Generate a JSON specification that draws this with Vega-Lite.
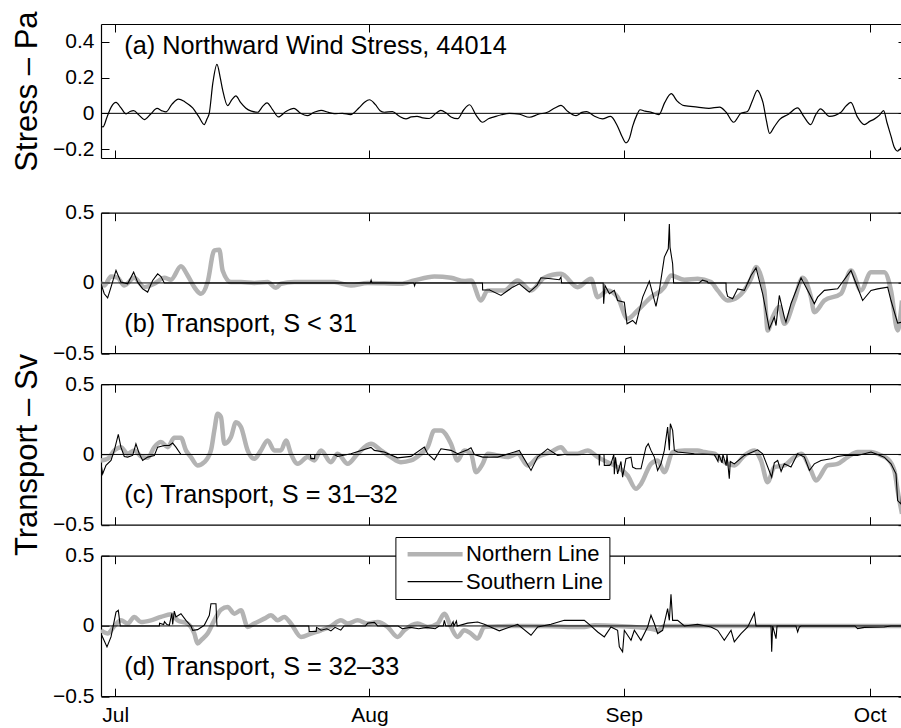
{
"$schema": "https://vega.github.io/schema/vega-lite/v6.json",
"autosize": {"type": "pad"},
"padding": {"left": 11, "top": 10, "right": 0, "bottom": 0},
"background": "white",
"config": {
  "view": {"stroke": null},
  "font": "Liberation Sans",
  "axis": {"grid": false, "domainColor": "black", "domainWidth": 1.2, "tickColor": "black", "tickWidth": 1, "tickSize": -8, "labelFont": "Liberation Sans", "labelFontSize": 21, "labelColor": "black", "labelPadding": 15, "titleFont": "Liberation Sans", "titleFontSize": 31, "titleFontWeight": "normal", "titleColor": "black", "titlePadding": 9},
  "text": {"font": "Liberation Sans", "fontSize": 25.3, "color": "black", "align": "left", "baseline": "middle"}
},
"datasets": {
"a": [
{"d":-1.74,"v":-0.07},{"d":-1.5,"v":-0.076},{"d":-1.0,"v":-0.02},{"d":-0.5,"v":0.035},{"d":0.09,"v":0.061},{"d":0.7,"v":0.03},{"d":1.32,"v":-0.003},{"d":1.8,"v":0.01},{"d":2.24,"v":0.015},{"d":2.9,"v":-0.01},{"d":3.54,"v":-0.035},{"d":4.3,"v":-0.005},{"d":5.09,"v":0.028},{"d":5.7,"v":0.014},{"d":6.18,"v":0.008},{"d":6.9,"v":0.05},{"d":7.7,"v":0.08},{"d":8.5,"v":0.064},{"d":9.44,"v":0.03},{"d":10.2,"v":-0.02},{"d":10.85,"v":-0.063},{"d":11.2,"v":-0.03},{"d":11.46,"v":0.0},{"d":11.9,"v":0.17},{"d":12.4,"v":0.274},{"d":12.8,"v":0.2},{"d":13.1,"v":0.13},{"d":13.7,"v":0.043},{"d":14.2,"v":0.075},{"d":14.7,"v":0.098},{"d":15.3,"v":0.06},{"d":15.9,"v":0.03},{"d":16.6,"v":0.012},{"d":17.37,"v":0.006},{"d":18.0,"v":0.04},{"d":18.5,"v":0.058},{"d":19.2,"v":0.02},{"d":19.9,"v":-0.02},{"d":20.8,"v":0.01},{"d":21.8,"v":0.028},{"d":22.6,"v":0.0},{"d":23.4,"v":-0.013},{"d":24.2,"v":0.005},{"d":25.1,"v":0.017},{"d":26.0,"v":0.005},{"d":26.7,"v":-0.002},{"d":27.7,"v":0.0},{"d":28.7,"v":-0.007},{"d":29.7,"v":0.03},{"d":30.4,"v":0.062},{"d":31.0,"v":0.076},{"d":31.7,"v":0.05},{"d":32.3,"v":0.015},{"d":32.8,"v":0.006},{"d":33.8,"v":0.01},{"d":34.6,"v":-0.015},{"d":35.45,"v":-0.031},{"d":36.1,"v":-0.02},{"d":36.8,"v":-0.017},{"d":37.5,"v":-0.025},{"d":38.3,"v":-0.029},{"d":39.1,"v":0.0},{"d":39.7,"v":0.017},{"d":40.4,"v":0.0},{"d":40.95,"v":-0.02},{"d":41.76,"v":-0.03},{"d":42.5,"v":0.02},{"d":43.2,"v":0.048},{"d":44.0,"v":-0.01},{"d":44.8,"v":-0.05},{"d":45.5,"v":-0.03},{"d":46.2,"v":-0.02},{"d":47.1,"v":-0.008},{"d":48.05,"v":0.0},{"d":49.3,"v":-0.005},{"d":50.5,"v":-0.022},{"d":51.6,"v":-0.005},{"d":52.7,"v":0.006},{"d":53.6,"v":0.03},{"d":54.35,"v":0.044},{"d":55.2,"v":0.01},{"d":56.2,"v":-0.013},{"d":56.9,"v":0.005},{"d":57.5,"v":0.01},{"d":58.4,"v":-0.015},{"d":59.4,"v":-0.031},{"d":60.4,"v":-0.017},{"d":61.25,"v":-0.072},{"d":61.8,"v":-0.13},{"d":62.28,"v":-0.165},{"d":62.7,"v":-0.14},{"d":63.1,"v":-0.072},{"d":63.6,"v":-0.01},{"d":64.0,"v":0.02},{"d":64.6,"v":0.012},{"d":65.3,"v":0.007},{"d":66.3,"v":-0.007},{"d":67.0,"v":0.06},{"d":67.8,"v":0.11},{"d":68.5,"v":0.07},{"d":69.4,"v":0.043},{"d":71.0,"v":0.035},{"d":72.4,"v":0.028},{"d":73.7,"v":0.035},{"d":74.5,"v":0.006},{"d":75.4,"v":-0.05},{"d":76.3,"v":0.0},{"d":77.1,"v":0.01},{"d":77.7,"v":0.07},{"d":78.3,"v":0.128},{"d":78.7,"v":0.1},{"d":79.0,"v":0.058},{"d":79.4,"v":-0.04},{"d":79.8,"v":-0.113},{"d":80.3,"v":-0.08},{"d":81.0,"v":-0.035},{"d":82.1,"v":-0.005},{"d":83.2,"v":0.03},{"d":84.0,"v":-0.02},{"d":84.8,"v":-0.063},{"d":85.4,"v":-0.01},{"d":86.0,"v":0.025},{"d":87.1,"v":-0.017},{"d":88.5,"v":0.006},{"d":89.1,"v":0.04},{"d":89.7,"v":0.061},{"d":90.5,"v":-0.02},{"d":91.35,"v":-0.063},{"d":92.0,"v":-0.045},{"d":92.6,"v":-0.031},{"d":93.2,"v":-0.01},{"d":93.7,"v":0.015},{"d":94.1,"v":-0.05},{"d":94.6,"v":-0.128},{"d":95.0,"v":-0.19},{"d":95.4,"v":-0.211},{"d":95.94,"v":-0.183}
],
"b": [
{"s":"Northern Line","d":-1.74,"v":0.006},{"s":"Northern Line","d":-1.34,"v":-0.018},{"s":"Northern Line","d":-0.52,"v":0.046},{"s":"Northern Line","d":0.29,"v":0.037},{"s":"Northern Line","d":1.1,"v":-0.018},{"s":"Northern Line","d":2.32,"v":0.037},{"s":"Northern Line","d":3.54,"v":-0.03},{"s":"Northern Line","d":4.76,"v":-0.006},{"s":"Northern Line","d":5.98,"v":0.037},{"s":"Northern Line","d":6.79,"v":0.023},{"s":"Northern Line","d":8.01,"v":0.118},{"s":"Northern Line","d":8.83,"v":0.053},{"s":"Northern Line","d":9.64,"v":-0.03},{"s":"Northern Line","d":10.45,"v":-0.077},{"s":"Northern Line","d":11.26,"v":0.006},{"s":"Northern Line","d":12.08,"v":0.232},{"s":"Northern Line","d":12.69,"v":0.236},{"s":"Northern Line","d":13.09,"v":0.089},{"s":"Northern Line","d":14.11,"v":0.006},{"s":"Northern Line","d":15.33,"v":0.006},{"s":"Northern Line","d":16.95,"v":0.0},{"s":"Northern Line","d":18.58,"v":0.006},{"s":"Northern Line","d":19.6,"v":-0.035},{"s":"Northern Line","d":20.21,"v":-0.006},{"s":"Northern Line","d":21.83,"v":0.006},{"s":"Northern Line","d":26.71,"v":0.006},{"s":"Northern Line","d":28.74,"v":-0.018},{"s":"Northern Line","d":30.78,"v":0.0},{"s":"Northern Line","d":34.84,"v":-0.006},{"s":"Northern Line","d":36.47,"v":0.018},{"s":"Northern Line","d":38.91,"v":0.046},{"s":"Northern Line","d":40.94,"v":0.037},{"s":"Northern Line","d":42.56,"v":0.013},{"s":"Northern Line","d":43.38,"v":0.018},{"s":"Northern Line","d":44.6,"v":-0.125},{"s":"Northern Line","d":45.41,"v":-0.053},{"s":"Northern Line","d":47.44,"v":-0.053},{"s":"Northern Line","d":49.07,"v":0.018},{"s":"Northern Line","d":50.7,"v":-0.053},{"s":"Northern Line","d":52.32,"v":0.037},{"s":"Northern Line","d":54.35,"v":0.065},{"s":"Northern Line","d":56.39,"v":-0.03},{"s":"Northern Line","d":58.01,"v":0.03},{"s":"Northern Line","d":58.83,"v":-0.101},{"s":"Northern Line","d":60.05,"v":-0.053},{"s":"Northern Line","d":61.26,"v":-0.101},{"s":"Northern Line","d":62.48,"v":-0.255},{"s":"Northern Line","d":63.7,"v":-0.196},{"s":"Northern Line","d":65.33,"v":-0.101},{"s":"Northern Line","d":66.96,"v":-0.03},{"s":"Northern Line","d":67.77,"v":0.053},{"s":"Northern Line","d":69.4,"v":0.023},{"s":"Northern Line","d":71.02,"v":0.03},{"s":"Northern Line","d":72.65,"v":0.006},{"s":"Northern Line","d":73.46,"v":-0.053},{"s":"Northern Line","d":74.68,"v":-0.125},{"s":"Northern Line","d":75.9,"v":-0.101},{"s":"Northern Line","d":77.53,"v":0.03},{"s":"Northern Line","d":78.14,"v":0.113},{"s":"Northern Line","d":79.15,"v":-0.053},{"s":"Northern Line","d":79.56,"v":-0.338},{"s":"Northern Line","d":80.17,"v":-0.243},{"s":"Northern Line","d":80.98,"v":-0.172},{"s":"Northern Line","d":81.59,"v":-0.291},{"s":"Northern Line","d":82.81,"v":-0.125},{"s":"Northern Line","d":83.83,"v":0.037},{"s":"Northern Line","d":84.84,"v":-0.101},{"s":"Northern Line","d":85.25,"v":-0.208},{"s":"Northern Line","d":86.47,"v":-0.125},{"s":"Northern Line","d":88.5,"v":-0.077},{"s":"Northern Line","d":89.72,"v":0.089},{"s":"Northern Line","d":90.94,"v":-0.053},{"s":"Northern Line","d":92.16,"v":0.077},{"s":"Northern Line","d":93.78,"v":0.077},{"s":"Northern Line","d":94.6,"v":-0.053},{"s":"Northern Line","d":95.41,"v":-0.338},{"s":"Northern Line","d":95.94,"v":-0.125},
{"s":"Southern Line","d":-1.74,"v":-0.006},{"s":"Southern Line","d":-1.34,"v":-0.077},{"s":"Southern Line","d":-0.93,"v":-0.106},{"s":"Southern Line","d":-0.52,"v":-0.03},{"s":"Southern Line","d":0.09,"v":0.089},{"s":"Southern Line","d":0.69,"v":0.006},{"s":"Southern Line","d":1.51,"v":-0.006},{"s":"Southern Line","d":2.24,"v":0.077},{"s":"Southern Line","d":2.73,"v":0.006},{"s":"Southern Line","d":3.34,"v":-0.042},{"s":"Southern Line","d":3.95,"v":-0.065},{"s":"Southern Line","d":4.56,"v":0.018},{"s":"Southern Line","d":5.17,"v":0.065},{"s":"Southern Line","d":5.57,"v":0.046},{"s":"Southern Line","d":5.98,"v":0.0},{"s":"Southern Line","d":31.1,"v":0.0},{"s":"Southern Line","d":31.2,"v":0.02},{"s":"Southern Line","d":31.3,"v":0.0},{"s":"Southern Line","d":36.4,"v":0.0},{"s":"Southern Line","d":36.5,"v":-0.02},{"s":"Southern Line","d":36.6,"v":0.0},{"s":"Southern Line","d":44.78,"v":0.0},{"s":"Southern Line","d":44.8,"v":-0.05},{"s":"Southern Line","d":45.55,"v":-0.05},{"s":"Southern Line","d":45.61,"v":-0.049},{"s":"Southern Line","d":47.04,"v":-0.089},{"s":"Southern Line","d":48.46,"v":-0.03},{"s":"Southern Line","d":49.27,"v":-0.006},{"s":"Southern Line","d":50.49,"v":-0.065},{"s":"Southern Line","d":51.43,"v":-0.018},{"s":"Southern Line","d":51.91,"v":0.037},{"s":"Southern Line","d":53.13,"v":0.03},{"s":"Southern Line","d":54.15,"v":0.023},{"s":"Southern Line","d":54.35,"v":0.042},{"s":"Southern Line","d":54.43,"v":0.0},{"s":"Southern Line","d":59.5,"v":0.0},{"s":"Southern Line","d":59.56,"v":-0.148},{"s":"Southern Line","d":59.72,"v":-0.018},{"s":"Southern Line","d":60.26,"v":-0.077},{"s":"Southern Line","d":60.86,"v":-0.053},{"s":"Southern Line","d":61.26,"v":-0.125},{"s":"Southern Line","d":62.08,"v":-0.137},{"s":"Southern Line","d":62.41,"v":-0.291},{"s":"Southern Line","d":63.09,"v":-0.267},{"s":"Southern Line","d":63.5,"v":-0.291},{"s":"Southern Line","d":64.32,"v":-0.101},{"s":"Southern Line","d":65.13,"v":0.013},{"s":"Southern Line","d":65.94,"v":-0.167},{"s":"Southern Line","d":66.35,"v":-0.053},{"s":"Southern Line","d":66.96,"v":0.184},{"s":"Southern Line","d":67.44,"v":0.243},{"s":"Southern Line","d":67.57,"v":0.42},{"s":"Southern Line","d":67.65,"v":0.255},{"s":"Southern Line","d":67.97,"v":0.137},{"s":"Southern Line","d":68.09,"v":0.0},{"s":"Southern Line","d":71.2,"v":0.0},{"s":"Southern Line","d":71.6,"v":0.02},{"s":"Southern Line","d":72.2,"v":0.01},{"s":"Southern Line","d":72.3,"v":0.0},{"s":"Southern Line","d":74.48,"v":0.0},{"s":"Southern Line","d":74.5,"v":-0.053},{"s":"Southern Line","d":74.68,"v":-0.096},{"s":"Southern Line","d":75.29,"v":-0.113},{"s":"Southern Line","d":75.9,"v":-0.042},{"s":"Southern Line","d":76.72,"v":-0.053},{"s":"Southern Line","d":77.53,"v":0.053},{"s":"Southern Line","d":78.14,"v":0.108},{"s":"Southern Line","d":78.95,"v":-0.077},{"s":"Southern Line","d":79.76,"v":-0.327},{"s":"Southern Line","d":80.37,"v":-0.243},{"s":"Southern Line","d":80.58,"v":-0.303},{"s":"Southern Line","d":80.98,"v":-0.089},{"s":"Southern Line","d":81.59,"v":-0.243},{"s":"Southern Line","d":81.79,"v":-0.279},{"s":"Southern Line","d":82.4,"v":-0.148},{"s":"Southern Line","d":83.63,"v":0.037},{"s":"Southern Line","d":84.65,"v":-0.077},{"s":"Southern Line","d":85.25,"v":-0.148},{"s":"Southern Line","d":85.65,"v":-0.101},{"s":"Southern Line","d":86.47,"v":-0.053},{"s":"Southern Line","d":88.09,"v":-0.042},{"s":"Southern Line","d":89.72,"v":0.089},{"s":"Southern Line","d":91.14,"v":-0.125},{"s":"Southern Line","d":92.16,"v":-0.053},{"s":"Southern Line","d":92.97,"v":-0.042},{"s":"Southern Line","d":94.19,"v":-0.03},{"s":"Southern Line","d":94.6,"v":-0.125},{"s":"Southern Line","d":95.41,"v":-0.286},{"s":"Southern Line","d":95.94,"v":-0.279}
],
"c": [
{"s":"Northern Line","d":-1.74,"v":-0.043},{"s":"Northern Line","d":-0.93,"v":-0.031},{"s":"Northern Line","d":-0.12,"v":0.029},{"s":"Northern Line","d":0.69,"v":0.052},{"s":"Northern Line","d":1.51,"v":0.005},{"s":"Northern Line","d":2.32,"v":0.029},{"s":"Northern Line","d":3.13,"v":-0.014},{"s":"Northern Line","d":3.95,"v":-0.024},{"s":"Northern Line","d":4.76,"v":0.052},{"s":"Northern Line","d":5.57,"v":0.088},{"s":"Northern Line","d":6.39,"v":0.052},{"s":"Northern Line","d":7.2,"v":0.119},{"s":"Northern Line","d":8.01,"v":0.119},{"s":"Northern Line","d":8.62,"v":0.029},{"s":"Northern Line","d":9.23,"v":-0.019},{"s":"Northern Line","d":10.04,"v":-0.078},{"s":"Northern Line","d":10.85,"v":-0.055},{"s":"Northern Line","d":11.67,"v":0.029},{"s":"Northern Line","d":12.08,"v":0.171},{"s":"Northern Line","d":12.48,"v":0.29},{"s":"Northern Line","d":12.89,"v":0.266},{"s":"Northern Line","d":13.3,"v":0.076},{"s":"Northern Line","d":14.11,"v":0.124},{"s":"Northern Line","d":14.72,"v":0.23},{"s":"Northern Line","d":15.33,"v":0.195},{"s":"Northern Line","d":16.14,"v":0.029},{"s":"Northern Line","d":16.95,"v":-0.031},{"s":"Northern Line","d":17.77,"v":0.029},{"s":"Northern Line","d":18.58,"v":0.1},{"s":"Northern Line","d":19.39,"v":0.029},{"s":"Northern Line","d":20.21,"v":0.029},{"s":"Northern Line","d":20.82,"v":0.1},{"s":"Northern Line","d":21.42,"v":0.005},{"s":"Northern Line","d":22.24,"v":-0.067},{"s":"Northern Line","d":23.46,"v":-0.019},{"s":"Northern Line","d":24.27,"v":-0.043},{"s":"Northern Line","d":25.09,"v":0.029},{"s":"Northern Line","d":26.3,"v":-0.055},{"s":"Northern Line","d":27.12,"v":0.005},{"s":"Northern Line","d":28.34,"v":-0.067},{"s":"Northern Line","d":29.56,"v":0.005},{"s":"Northern Line","d":31.18,"v":0.076},{"s":"Northern Line","d":32.4,"v":0.029},{"s":"Northern Line","d":33.62,"v":-0.019},{"s":"Northern Line","d":34.84,"v":-0.055},{"s":"Northern Line","d":36.06,"v":-0.043},{"s":"Northern Line","d":37.28,"v":0.005},{"s":"Northern Line","d":38.09,"v":0.052},{"s":"Northern Line","d":38.91,"v":0.171},{"s":"Northern Line","d":39.72,"v":0.171},{"s":"Northern Line","d":40.94,"v":0.076},{"s":"Northern Line","d":41.75,"v":-0.043},{"s":"Northern Line","d":42.56,"v":0.029},{"s":"Northern Line","d":43.38,"v":0.005},{"s":"Northern Line","d":43.99,"v":-0.126},{"s":"Northern Line","d":44.8,"v":-0.067},{"s":"Northern Line","d":45.41,"v":0.005},{"s":"Northern Line","d":46.63,"v":-0.007},{"s":"Northern Line","d":47.85,"v":-0.019},{"s":"Northern Line","d":49.07,"v":0.005},{"s":"Northern Line","d":50.29,"v":-0.078},{"s":"Northern Line","d":51.51,"v":-0.019},{"s":"Northern Line","d":53.13,"v":0.017},{"s":"Northern Line","d":54.35,"v":0.052},{"s":"Northern Line","d":55.17,"v":0.005},{"s":"Northern Line","d":56.39,"v":0.005},{"s":"Northern Line","d":57.61,"v":0.029},{"s":"Northern Line","d":58.83,"v":-0.019},{"s":"Northern Line","d":60.05,"v":-0.055},{"s":"Northern Line","d":61.26,"v":-0.09},{"s":"Northern Line","d":62.48,"v":-0.15},{"s":"Northern Line","d":63.5,"v":-0.245},{"s":"Northern Line","d":64.11,"v":-0.209},{"s":"Northern Line","d":65.33,"v":-0.067},{"s":"Northern Line","d":66.14,"v":-0.043},{"s":"Northern Line","d":66.96,"v":-0.126},{"s":"Northern Line","d":67.97,"v":0.017},{"s":"Northern Line","d":69.4,"v":0.029},{"s":"Northern Line","d":71.02,"v":0.029},{"s":"Northern Line","d":71.83,"v":0.017},{"s":"Northern Line","d":73.05,"v":0.005},{"s":"Northern Line","d":74.27,"v":-0.055},{"s":"Northern Line","d":75.49,"v":-0.078},{"s":"Northern Line","d":76.72,"v":-0.007},{"s":"Northern Line","d":77.94,"v":0.029},{"s":"Northern Line","d":78.74,"v":-0.043},{"s":"Northern Line","d":79.56,"v":-0.197},{"s":"Northern Line","d":80.37,"v":-0.09},{"s":"Northern Line","d":81.59,"v":-0.078},{"s":"Northern Line","d":82.81,"v":-0.019},{"s":"Northern Line","d":83.63,"v":0.005},{"s":"Northern Line","d":84.84,"v":-0.114},{"s":"Northern Line","d":85.45,"v":-0.185},{"s":"Northern Line","d":86.87,"v":-0.078},{"s":"Northern Line","d":88.09,"v":-0.067},{"s":"Northern Line","d":89.31,"v":-0.019},{"s":"Northern Line","d":90.53,"v":0.017},{"s":"Northern Line","d":92.16,"v":0.017},{"s":"Northern Line","d":93.38,"v":-0.007},{"s":"Northern Line","d":94.19,"v":-0.031},{"s":"Northern Line","d":95.0,"v":-0.114},{"s":"Northern Line","d":95.41,"v":-0.257},{"s":"Northern Line","d":95.94,"v":-0.423},
{"s":"Southern Line","d":-1.74,"v":-0.067},{"s":"Southern Line","d":-1.54,"v":-0.138},{"s":"Southern Line","d":-1.13,"v":-0.078},{"s":"Southern Line","d":-0.52,"v":-0.043},{"s":"Southern Line","d":-0.12,"v":0.029},{"s":"Southern Line","d":0.37,"v":0.143},{"s":"Southern Line","d":0.69,"v":0.052},{"s":"Southern Line","d":1.1,"v":-0.014},{"s":"Southern Line","d":1.51,"v":-0.019},{"s":"Southern Line","d":2.12,"v":-0.007},{"s":"Southern Line","d":2.52,"v":0.076},{"s":"Southern Line","d":2.93,"v":0.005},{"s":"Southern Line","d":3.34,"v":-0.043},{"s":"Southern Line","d":3.95,"v":-0.019},{"s":"Southern Line","d":4.76,"v":-0.007},{"s":"Southern Line","d":5.17,"v":0.052},{"s":"Southern Line","d":5.98,"v":0.064},{"s":"Southern Line","d":6.59,"v":0.064},{"s":"Southern Line","d":7.0,"v":0.081},{"s":"Southern Line","d":7.4,"v":0.052},{"s":"Southern Line","d":8.01,"v":0.0},{"s":"Southern Line","d":23.8,"v":0.0},{"s":"Southern Line","d":23.85,"v":-0.03},{"s":"Southern Line","d":24.3,"v":-0.03},{"s":"Southern Line","d":24.35,"v":0.0},{"s":"Southern Line","d":26.71,"v":0.0},{"s":"Southern Line","d":27.12,"v":-0.014},{"s":"Southern Line","d":28.74,"v":0.005},{"s":"Southern Line","d":31.18,"v":0.05},{"s":"Southern Line","d":31.59,"v":0.029},{"s":"Southern Line","d":32.8,"v":0.017},{"s":"Southern Line","d":34.43,"v":-0.024},{"s":"Southern Line","d":36.06,"v":-0.014},{"s":"Southern Line","d":37.69,"v":0.052},{"s":"Southern Line","d":38.09,"v":0.005},{"s":"Southern Line","d":38.91,"v":-0.038},{"s":"Southern Line","d":39.72,"v":0.04},{"s":"Southern Line","d":40.94,"v":0.029},{"s":"Southern Line","d":41.75,"v":0.005},{"s":"Southern Line","d":42.97,"v":0.033},{"s":"Southern Line","d":43.38,"v":0.048},{"s":"Southern Line","d":43.79,"v":0.0},{"s":"Southern Line","d":44.8,"v":-0.019},{"s":"Southern Line","d":46.63,"v":-0.019},{"s":"Southern Line","d":48.66,"v":0.017},{"s":"Southern Line","d":49.27,"v":0.029},{"s":"Southern Line","d":50.7,"v":-0.114},{"s":"Southern Line","d":51.51,"v":-0.019},{"s":"Southern Line","d":52.73,"v":0.04},{"s":"Southern Line","d":53.95,"v":-0.007},{"s":"Southern Line","d":54.76,"v":0.0},{"s":"Southern Line","d":59.0,"v":0.0},{"s":"Southern Line","d":59.03,"v":-0.078},{"s":"Southern Line","d":59.1,"v":0.0},{"s":"Southern Line","d":59.6,"v":0.0},{"s":"Southern Line","d":59.64,"v":-0.078},{"s":"Southern Line","d":60.26,"v":-0.078},{"s":"Southern Line","d":60.45,"v":-0.067},{"s":"Southern Line","d":60.8,"v":0.0},{"s":"Southern Line","d":60.86,"v":-0.14},{"s":"Southern Line","d":61.0,"v":-0.02},{"s":"Southern Line","d":61.26,"v":-0.138},{"s":"Southern Line","d":61.67,"v":-0.05},{"s":"Southern Line","d":61.87,"v":-0.162},{"s":"Southern Line","d":62.28,"v":-0.03},{"s":"Southern Line","d":62.89,"v":-0.019},{"s":"Southern Line","d":63.09,"v":-0.09},{"s":"Southern Line","d":63.5,"v":-0.102},{"s":"Southern Line","d":64.11,"v":-0.102},{"s":"Southern Line","d":64.72,"v":0.052},{"s":"Southern Line","d":65.0,"v":0.076},{"s":"Southern Line","d":65.33,"v":0.029},{"s":"Southern Line","d":65.74,"v":-0.019},{"s":"Southern Line","d":66.14,"v":-0.114},{"s":"Southern Line","d":66.55,"v":-0.067},{"s":"Southern Line","d":66.96,"v":0.029},{"s":"Southern Line","d":67.36,"v":0.195},{"s":"Southern Line","d":67.57,"v":0.03},{"s":"Southern Line","d":67.69,"v":0.219},{"s":"Southern Line","d":67.97,"v":0.171},{"s":"Southern Line","d":68.18,"v":0.029},{"s":"Southern Line","d":68.58,"v":0.017},{"s":"Southern Line","d":70.61,"v":0.005},{"s":"Southern Line","d":73.05,"v":0.0},{"s":"Southern Line","d":73.5,"v":-0.05},{"s":"Southern Line","d":73.6,"v":0.0},{"s":"Southern Line","d":74.0,"v":-0.06},{"s":"Southern Line","d":74.1,"v":0.0},{"s":"Southern Line","d":74.5,"v":-0.08},{"s":"Southern Line","d":74.6,"v":0.0},{"s":"Southern Line","d":74.88,"v":-0.173},{"s":"Southern Line","d":75.0,"v":-0.05},{"s":"Southern Line","d":75.49,"v":-0.067},{"s":"Southern Line","d":76.72,"v":-0.007},{"s":"Southern Line","d":78.34,"v":0.033},{"s":"Southern Line","d":78.95,"v":0.005},{"s":"Southern Line","d":80.05,"v":-0.162},{"s":"Southern Line","d":80.37,"v":-0.06},{"s":"Southern Line","d":80.78,"v":-0.043},{"s":"Southern Line","d":81.2,"v":-0.12},{"s":"Southern Line","d":81.59,"v":-0.067},{"s":"Southern Line","d":82.4,"v":-0.09},{"s":"Southern Line","d":83.22,"v":0.005},{"s":"Southern Line","d":84.04,"v":-0.019},{"s":"Southern Line","d":84.65,"v":-0.114},{"s":"Southern Line","d":85.25,"v":-0.067},{"s":"Southern Line","d":86.06,"v":-0.043},{"s":"Southern Line","d":87.28,"v":-0.031},{"s":"Southern Line","d":88.09,"v":-0.014},{"s":"Southern Line","d":88.91,"v":-0.007},{"s":"Southern Line","d":90.53,"v":-0.007},{"s":"Southern Line","d":92.16,"v":0.017},{"s":"Southern Line","d":92.97,"v":0.0},{"s":"Southern Line","d":93.78,"v":-0.019},{"s":"Southern Line","d":94.6,"v":-0.067},{"s":"Southern Line","d":95.21,"v":-0.138},{"s":"Southern Line","d":95.41,"v":-0.328},{"s":"Southern Line","d":95.82,"v":-0.352},{"s":"Southern Line","d":95.94,"v":-0.25}
],
"d": [
{"s":"Northern Line","d":-1.74,"v":-0.031},{"s":"Northern Line","d":-0.93,"v":-0.054},{"s":"Northern Line","d":-0.12,"v":-0.002},{"s":"Northern Line","d":0.69,"v":0.04},{"s":"Northern Line","d":1.51,"v":0.017},{"s":"Northern Line","d":2.32,"v":0.064},{"s":"Northern Line","d":3.13,"v":0.028},{"s":"Northern Line","d":4.35,"v":0.04},{"s":"Northern Line","d":5.57,"v":0.064},{"s":"Northern Line","d":6.79,"v":0.083},{"s":"Northern Line","d":7.61,"v":0.04},{"s":"Northern Line","d":8.83,"v":0.017},{"s":"Northern Line","d":9.64,"v":-0.054},{"s":"Northern Line","d":10.04,"v":-0.125},{"s":"Northern Line","d":10.45,"v":-0.102},{"s":"Northern Line","d":11.26,"v":-0.054},{"s":"Northern Line","d":12.08,"v":0.04},{"s":"Northern Line","d":12.89,"v":0.116},{"s":"Northern Line","d":13.7,"v":0.135},{"s":"Northern Line","d":14.52,"v":0.087},{"s":"Northern Line","d":15.33,"v":0.111},{"s":"Northern Line","d":16.14,"v":-0.007},{"s":"Northern Line","d":16.95,"v":0.017},{"s":"Northern Line","d":18.17,"v":0.052},{"s":"Northern Line","d":18.99,"v":0.076},{"s":"Northern Line","d":19.8,"v":0.04},{"s":"Northern Line","d":20.61,"v":0.064},{"s":"Northern Line","d":21.42,"v":0.017},{"s":"Northern Line","d":22.65,"v":-0.078},{"s":"Northern Line","d":23.87,"v":-0.054},{"s":"Northern Line","d":25.09,"v":-0.031},{"s":"Northern Line","d":26.3,"v":-0.002},{"s":"Northern Line","d":27.52,"v":0.04},{"s":"Northern Line","d":28.34,"v":0.017},{"s":"Northern Line","d":29.56,"v":0.04},{"s":"Northern Line","d":30.78,"v":0.017},{"s":"Northern Line","d":32.0,"v":0.028},{"s":"Northern Line","d":33.21,"v":-0.007},{"s":"Northern Line","d":34.43,"v":-0.078},{"s":"Northern Line","d":35.25,"v":-0.031},{"s":"Northern Line","d":36.87,"v":0.017},{"s":"Northern Line","d":38.09,"v":-0.007},{"s":"Northern Line","d":39.31,"v":0.017},{"s":"Northern Line","d":40.13,"v":0.087},{"s":"Northern Line","d":40.94,"v":-0.007},{"s":"Northern Line","d":41.75,"v":-0.078},{"s":"Northern Line","d":42.56,"v":-0.031},{"s":"Northern Line","d":43.38,"v":-0.054},{"s":"Northern Line","d":44.19,"v":-0.09},{"s":"Northern Line","d":45.0,"v":-0.007},{"s":"Northern Line","d":47.04,"v":-0.002},{"s":"Northern Line","d":49.07,"v":0.0},{"s":"Northern Line","d":53.13,"v":-0.002},{"s":"Northern Line","d":55.17,"v":-0.007},{"s":"Northern Line","d":57.2,"v":-0.007},{"s":"Northern Line","d":58.42,"v":0.005},{"s":"Northern Line","d":61.26,"v":0.0},{"s":"Northern Line","d":65.33,"v":-0.02},{"s":"Northern Line","d":66.14,"v":-0.03},{"s":"Northern Line","d":66.96,"v":0.0},{"s":"Northern Line","d":95.94,"v":0.0},
{"s":"Southern Line","d":-1.74,"v":-0.054},{"s":"Southern Line","d":-1.01,"v":-0.149},{"s":"Southern Line","d":-0.52,"v":-0.078},{"s":"Southern Line","d":0.09,"v":0.099},{"s":"Southern Line","d":0.37,"v":0.111},{"s":"Southern Line","d":0.61,"v":0.0},{"s":"Southern Line","d":5.37,"v":0.0},{"s":"Southern Line","d":5.4,"v":0.02},{"s":"Southern Line","d":5.9,"v":0.01},{"s":"Southern Line","d":6.0,"v":0.03},{"s":"Southern Line","d":6.3,"v":0.01},{"s":"Southern Line","d":6.59,"v":0.005},{"s":"Southern Line","d":6.9,"v":0.09},{"s":"Southern Line","d":7.0,"v":0.01},{"s":"Southern Line","d":7.2,"v":0.106},{"s":"Southern Line","d":7.4,"v":0.064},{"s":"Southern Line","d":8.01,"v":0.087},{"s":"Southern Line","d":8.62,"v":0.04},{"s":"Southern Line","d":9.23,"v":0.0},{"s":"Southern Line","d":9.44,"v":-0.031},{"s":"Southern Line","d":10.04,"v":-0.026},{"s":"Southern Line","d":10.85,"v":0.005},{"s":"Southern Line","d":11.26,"v":0.052},{"s":"Southern Line","d":11.47,"v":0.076},{"s":"Southern Line","d":11.67,"v":0.158},{"s":"Southern Line","d":12.28,"v":0.158},{"s":"Southern Line","d":12.4,"v":0.0},{"s":"Southern Line","d":23.6,"v":0.0},{"s":"Southern Line","d":23.65,"v":-0.04},{"s":"Southern Line","d":24.5,"v":-0.04},{"s":"Southern Line","d":24.55,"v":-0.01},{"s":"Southern Line","d":25.1,"v":-0.03},{"s":"Southern Line","d":25.8,"v":-0.02},{"s":"Southern Line","d":26.3,"v":-0.035},{"s":"Southern Line","d":26.8,"v":-0.01},{"s":"Southern Line","d":27.5,"v":-0.03},{"s":"Southern Line","d":27.9,"v":0.0},{"s":"Southern Line","d":30.5,"v":0.0},{"s":"Southern Line","d":30.8,"v":0.02},{"s":"Southern Line","d":31.6,"v":0.025},{"s":"Southern Line","d":32.0,"v":0.0},{"s":"Southern Line","d":34.5,"v":0.0},{"s":"Southern Line","d":35.0,"v":-0.02},{"s":"Southern Line","d":36.0,"v":-0.01},{"s":"Southern Line","d":37.0,"v":-0.02},{"s":"Southern Line","d":38.0,"v":-0.01},{"s":"Southern Line","d":39.0,"v":-0.02},{"s":"Southern Line","d":39.5,"v":0.0},{"s":"Southern Line","d":40.0,"v":0.0},{"s":"Southern Line","d":40.13,"v":0.04},{"s":"Southern Line","d":40.3,"v":0.0},{"s":"Southern Line","d":40.94,"v":0.0},{"s":"Southern Line","d":41.2,"v":0.03},{"s":"Southern Line","d":41.3,"v":0.0},{"s":"Southern Line","d":41.6,"v":0.035},{"s":"Southern Line","d":41.7,"v":0.0},{"s":"Southern Line","d":42.97,"v":0.02},{"s":"Southern Line","d":44.19,"v":0.028},{"s":"Southern Line","d":45.0,"v":0.012},{"s":"Southern Line","d":46.83,"v":-0.035},{"s":"Southern Line","d":49.07,"v":0.012},{"s":"Southern Line","d":50.7,"v":-0.066},{"s":"Southern Line","d":51.51,"v":-0.007},{"s":"Southern Line","d":53.13,"v":0.012},{"s":"Southern Line","d":54.76,"v":0.04},{"s":"Southern Line","d":55.57,"v":0.04},{"s":"Southern Line","d":57.2,"v":0.04},{"s":"Southern Line","d":58.01,"v":0.0},{"s":"Southern Line","d":58.83,"v":-0.043},{"s":"Southern Line","d":59.64,"v":-0.078},{"s":"Southern Line","d":60.45,"v":-0.007},{"s":"Southern Line","d":61.26,"v":-0.031},{"s":"Southern Line","d":61.47,"v":-0.149},{"s":"Southern Line","d":61.87,"v":-0.184},{"s":"Southern Line","d":62.08,"v":-0.031},{"s":"Southern Line","d":62.89,"v":-0.102},{"s":"Southern Line","d":63.3,"v":-0.031},{"s":"Southern Line","d":64.11,"v":-0.102},{"s":"Southern Line","d":64.92,"v":-0.007},{"s":"Southern Line","d":65.33,"v":0.076},{"s":"Southern Line","d":65.74,"v":0.017},{"s":"Southern Line","d":66.14,"v":-0.054},{"s":"Southern Line","d":66.75,"v":-0.031},{"s":"Southern Line","d":67.36,"v":0.123},{"s":"Southern Line","d":67.57,"v":0.04},{"s":"Southern Line","d":67.77,"v":0.225},{"s":"Southern Line","d":67.97,"v":0.04},{"s":"Southern Line","d":68.58,"v":0.04},{"s":"Southern Line","d":69.4,"v":0.0},{"s":"Southern Line","d":71.02,"v":0.012},{"s":"Southern Line","d":72.65,"v":-0.007},{"s":"Southern Line","d":73.46,"v":-0.031},{"s":"Southern Line","d":74.27,"v":-0.102},{"s":"Southern Line","d":75.09,"v":-0.031},{"s":"Southern Line","d":75.49,"v":-0.113},{"s":"Southern Line","d":76.31,"v":-0.054},{"s":"Southern Line","d":77.13,"v":-0.007},{"s":"Southern Line","d":77.94,"v":0.092},{"s":"Southern Line","d":78.14,"v":0.0},{"s":"Southern Line","d":79.97,"v":0.0},{"s":"Southern Line","d":80.05,"v":-0.184},{"s":"Southern Line","d":80.17,"v":0.0},{"s":"Southern Line","d":80.58,"v":-0.09},{"s":"Southern Line","d":80.7,"v":0.0},{"s":"Southern Line","d":83.0,"v":0.0},{"s":"Southern Line","d":83.22,"v":-0.043},{"s":"Southern Line","d":83.42,"v":-0.007},{"s":"Southern Line","d":83.63,"v":0.0},{"s":"Southern Line","d":90.2,"v":0.0},{"s":"Southern Line","d":90.53,"v":-0.019},{"s":"Southern Line","d":91.35,"v":-0.01},{"s":"Southern Line","d":93.78,"v":-0.007},{"s":"Southern Line","d":94.6,"v":0.0},{"s":"Southern Line","d":95.94,"v":0.0}
]
},
"bounds": "flush",
"spacing": 54.7,
"vconcat": [
{
  "width": 800, "height": 134,
  "resolve": {"axis": {"x": "independent", "y": "independent"}},
  "layer": [
    {"data": {"name": "a"}, "mark": {"type": "line", "color": "black", "strokeWidth": 1.2, "interpolate": "monotone", "clip": true},
     "encoding": {
       "x": {"field": "d", "type": "quantitative", "scale": {"domain": [-1.74, 95.82], "nice": false, "zero": false}, "axis": {"orient": "bottom", "values": [0, 31, 62, 92], "labels": false, "title": null}},
       "y": {"field": "v", "type": "quantitative", "scale": {"domain": [-0.25, 0.5], "nice": false, "zero": false}, "axis": {"orient": "left", "values": [-0.2, 0, 0.2, 0.4], "format": "~g", "title": "Stress – Pa"}}
     }},
    {"data": {"values": [{}]}, "mark": {"type": "rule", "color": "black", "strokeWidth": 1}, "encoding": {"y": {"datum": 0, "type": "quantitative", "axis": null}}},
    {"data": {"values": [{"t": "(a) Northward Wind Stress, 44014"}]}, "mark": {"type": "text"},
     "encoding": {
       "text": {"field": "t"},
       "x": {"datum": 1.1, "type": "quantitative", "axis": {"orient": "top", "values": [0, 31, 62, 92], "labels": false, "title": null}},
       "y": {"datum": 0.376, "type": "quantitative", "axis": {"orient": "right", "values": [-0.2, 0, 0.2, 0.4], "labels": false, "domain": false, "title": null, "tickSize": -3}}
     }}
  ]
},
{
  "bounds": "flush",
  "spacing": 30.5,
  "vconcat": [
  {
    "width": 800, "height": 140.5,
    "resolve": {"axis": {"x": "independent", "y": "independent"}},
    "layer": [
      {"data": {"name": "b"}, "transform": [{"filter": "datum.s == 'Northern Line'"}], "mark": {"type": "line", "strokeWidth": 4.5, "interpolate": "monotone", "clip": true},
       "encoding": {
         "x": {"field": "d", "type": "quantitative", "scale": {"domain": [-1.74, 95.82], "nice": false, "zero": false}, "axis": {"orient": "bottom", "values": [0, 31, 62, 92], "labels": false, "title": null}},
         "y": {"field": "v", "type": "quantitative", "scale": {"domain": [-0.5, 0.5], "nice": false, "zero": false}, "axis": {"orient": "left", "values": [-0.5, 0, 0.5], "format": "~g", "title": null}},
         "color": {"field": "s", "type": "nominal", "scale": {"domain": ["Northern Line", "Southern Line"], "range": ["#b3b3b3", "#000000"]},
           "legend": {"title": null, "orient": "none", "legendX": 294.4, "legendY": 513, "direction": "vertical", "symbolType": "M-2.5,0H2.5", "symbolSize": 484, "symbolStrokeWidth": 1.2, "symbolOffset": 22.4, "labelOffset": 20, "labelFont": "Liberation Sans", "labelFontSize": 22, "labelColor": "black", "labelLimit": 400, "padding": 6.3, "rowPadding": 5.4, "strokeColor": "black", "fillColor": "white", "cornerRadius": 0, "encode": {"symbols": {"update": {"strokeWidth": {"signal": "datum.value == 'Northern Line' ? 4.5 : 1.2"}}}}}}
       }},
      {"data": {"name": "b"}, "transform": [{"filter": "datum.s == 'Southern Line'"}], "mark": {"type": "line", "strokeWidth": 1.1, "clip": true},
       "encoding": {
         "x": {"field": "d", "type": "quantitative", "scale": {"domain": [-1.74, 95.82], "nice": false, "zero": false}, "axis": null},
         "y": {"field": "v", "type": "quantitative", "scale": {"domain": [-0.5, 0.5], "nice": false, "zero": false}, "axis": null},
         "color": {"field": "s", "type": "nominal", "scale": {"domain": ["Northern Line", "Southern Line"], "range": ["#b3b3b3", "#000000"]},
           "legend": {"title": null, "orient": "none", "legendX": 294.4, "legendY": 513, "direction": "vertical", "symbolType": "M-2.5,0H2.5", "symbolSize": 484, "symbolStrokeWidth": 1.2, "symbolOffset": 22.4, "labelOffset": 20, "labelFont": "Liberation Sans", "labelFontSize": 22, "labelColor": "black", "labelLimit": 400, "padding": 6.3, "rowPadding": 5.4, "strokeColor": "black", "fillColor": "white", "cornerRadius": 0, "encode": {"symbols": {"update": {"strokeWidth": {"signal": "datum.value == 'Northern Line' ? 4.5 : 1.2"}}}}}}
       }},
      {"data": {"values": [{}]}, "mark": {"type": "rule", "color": "black", "strokeWidth": 1}, "encoding": {"y": {"datum": 0, "type": "quantitative", "axis": null}}},
      {"data": {"values": [{"t": "(b) Transport, S < 31"}]}, "mark": {"type": "text"},
       "encoding": {
         "text": {"field": "t"},
         "x": {"datum": 1.1, "type": "quantitative", "axis": {"orient": "top", "values": [0, 31, 62, 92], "labels": false, "title": null}},
         "y": {"datum": -0.29, "type": "quantitative", "axis": {"orient": "right", "values": [-0.5, 0, 0.5], "labels": false, "domain": false, "title": null, "tickSize": -3}}
       }}
    ]
  },
  {
    "width": 800, "height": 140.5,
    "resolve": {"axis": {"x": "independent", "y": "independent"}},
    "layer": [
      {"data": {"name": "c"}, "transform": [{"filter": "datum.s == 'Northern Line'"}], "mark": {"type": "line", "strokeWidth": 4.5, "interpolate": "monotone", "clip": true},
       "encoding": {
         "x": {"field": "d", "type": "quantitative", "scale": {"domain": [-1.74, 95.82], "nice": false, "zero": false}, "axis": {"orient": "bottom", "values": [0, 31, 62, 92], "labels": false, "title": null}},
         "y": {"field": "v", "type": "quantitative", "scale": {"domain": [-0.5, 0.5], "nice": false, "zero": false}, "axis": {"orient": "left", "values": [-0.5, 0, 0.5], "format": "~g", "title": "Transport – Sv"}},
         "color": {"field": "s", "type": "nominal", "scale": {"domain": ["Northern Line", "Southern Line"], "range": ["#b3b3b3", "#000000"]},
           "legend": {"title": null, "orient": "none", "legendX": 294.4, "legendY": 513, "direction": "vertical", "symbolType": "M-2.5,0H2.5", "symbolSize": 484, "symbolStrokeWidth": 1.2, "symbolOffset": 22.4, "labelOffset": 20, "labelFont": "Liberation Sans", "labelFontSize": 22, "labelColor": "black", "labelLimit": 400, "padding": 6.3, "rowPadding": 5.4, "strokeColor": "black", "fillColor": "white", "cornerRadius": 0, "encode": {"symbols": {"update": {"strokeWidth": {"signal": "datum.value == 'Northern Line' ? 4.5 : 1.2"}}}}}}
       }},
      {"data": {"name": "c"}, "transform": [{"filter": "datum.s == 'Southern Line'"}], "mark": {"type": "line", "strokeWidth": 1.1, "clip": true},
       "encoding": {
         "x": {"field": "d", "type": "quantitative", "scale": {"domain": [-1.74, 95.82], "nice": false, "zero": false}, "axis": null},
         "y": {"field": "v", "type": "quantitative", "scale": {"domain": [-0.5, 0.5], "nice": false, "zero": false}, "axis": null},
         "color": {"field": "s", "type": "nominal", "scale": {"domain": ["Northern Line", "Southern Line"], "range": ["#b3b3b3", "#000000"]},
           "legend": {"title": null, "orient": "none", "legendX": 294.4, "legendY": 513, "direction": "vertical", "symbolType": "M-2.5,0H2.5", "symbolSize": 484, "symbolStrokeWidth": 1.2, "symbolOffset": 22.4, "labelOffset": 20, "labelFont": "Liberation Sans", "labelFontSize": 22, "labelColor": "black", "labelLimit": 400, "padding": 6.3, "rowPadding": 5.4, "strokeColor": "black", "fillColor": "white", "cornerRadius": 0, "encode": {"symbols": {"update": {"strokeWidth": {"signal": "datum.value == 'Northern Line' ? 4.5 : 1.2"}}}}}}
       }},
      {"data": {"values": [{}]}, "mark": {"type": "rule", "color": "black", "strokeWidth": 1}, "encoding": {"y": {"datum": 0, "type": "quantitative", "axis": null}}},
      {"data": {"values": [{"t": "(c) Transport, S = 31–32"}]}, "mark": {"type": "text"},
       "encoding": {
         "text": {"field": "t"},
         "x": {"datum": 1.1, "type": "quantitative", "axis": {"orient": "top", "values": [0, 31, 62, 92], "labels": false, "title": null}},
         "y": {"datum": -0.29, "type": "quantitative", "axis": {"orient": "right", "values": [-0.5, 0, 0.5], "labels": false, "domain": false, "title": null, "tickSize": -3}}
       }}
    ]
  },
  {
    "width": 800, "height": 140.5,
    "resolve": {"axis": {"x": "independent", "y": "independent"}},
    "layer": [
      {"data": {"name": "d"}, "transform": [{"filter": "datum.s == 'Northern Line'"}], "mark": {"type": "line", "strokeWidth": 4.5, "interpolate": "monotone", "clip": true},
       "encoding": {
         "x": {"field": "d", "type": "quantitative", "scale": {"domain": [-1.74, 95.82], "nice": false, "zero": false}, "axis": {"orient": "bottom", "values": [0, 31, 62, 92], "labels": true, "labelPadding": 16, "labelExpr": "datum.value == 0 ? 'Jul' : datum.value == 31 ? 'Aug' : datum.value == 62 ? 'Sep' : 'Oct'", "title": null}},
         "y": {"field": "v", "type": "quantitative", "scale": {"domain": [-0.5, 0.5], "nice": false, "zero": false}, "axis": {"orient": "left", "values": [-0.5, 0, 0.5], "format": "~g", "title": null}},
         "color": {"field": "s", "type": "nominal", "scale": {"domain": ["Northern Line", "Southern Line"], "range": ["#b3b3b3", "#000000"]},
           "legend": {"title": null, "orient": "none", "legendX": 294.4, "legendY": 513, "direction": "vertical", "symbolType": "M-2.5,0H2.5", "symbolSize": 484, "symbolStrokeWidth": 1.2, "symbolOffset": 22.4, "labelOffset": 20, "labelFont": "Liberation Sans", "labelFontSize": 22, "labelColor": "black", "labelLimit": 400, "padding": 6.3, "rowPadding": 5.4, "strokeColor": "black", "fillColor": "white", "cornerRadius": 0, "encode": {"symbols": {"update": {"strokeWidth": {"signal": "datum.value == 'Northern Line' ? 4.5 : 1.2"}}}}}}
       }},
      {"data": {"name": "d"}, "transform": [{"filter": "datum.s == 'Southern Line'"}], "mark": {"type": "line", "strokeWidth": 1.1, "clip": true},
       "encoding": {
         "x": {"field": "d", "type": "quantitative", "scale": {"domain": [-1.74, 95.82], "nice": false, "zero": false}, "axis": null},
         "y": {"field": "v", "type": "quantitative", "scale": {"domain": [-0.5, 0.5], "nice": false, "zero": false}, "axis": null},
         "color": {"field": "s", "type": "nominal", "scale": {"domain": ["Northern Line", "Southern Line"], "range": ["#b3b3b3", "#000000"]},
           "legend": {"title": null, "orient": "none", "legendX": 294.4, "legendY": 513, "direction": "vertical", "symbolType": "M-2.5,0H2.5", "symbolSize": 484, "symbolStrokeWidth": 1.2, "symbolOffset": 22.4, "labelOffset": 20, "labelFont": "Liberation Sans", "labelFontSize": 22, "labelColor": "black", "labelLimit": 400, "padding": 6.3, "rowPadding": 5.4, "strokeColor": "black", "fillColor": "white", "cornerRadius": 0, "encode": {"symbols": {"update": {"strokeWidth": {"signal": "datum.value == 'Northern Line' ? 4.5 : 1.2"}}}}}}
       }},
      {"data": {"values": [{}]}, "mark": {"type": "rule", "color": "black", "strokeWidth": 1}, "encoding": {"y": {"datum": 0, "type": "quantitative", "axis": null}}},
      {"data": {"values": [{"t": "(d) Transport, S = 32–33"}]}, "mark": {"type": "text"},
       "encoding": {
         "text": {"field": "t"},
         "x": {"datum": 1.1, "type": "quantitative", "axis": {"orient": "top", "values": [0, 31, 62, 92], "labels": false, "title": null}},
         "y": {"datum": -0.29, "type": "quantitative", "axis": {"orient": "right", "values": [-0.5, 0, 0.5], "labels": false, "domain": false, "title": null, "tickSize": -3}}
       }}
    ]
  }
  ]
}
]
}
